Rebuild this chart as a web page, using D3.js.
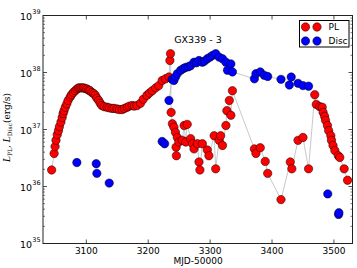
<!DOCTYPE html>
<html><head><meta charset="utf-8">
<script src="https://cdn.jsdelivr.net/npm/d3@7/dist/d3.min.js"></script>
<style>body{margin:0;background:#fff}svg{display:block}</style>
</head><body><svg id="c" width="357" height="268"></svg>
<script>
// MJD-50000 and log10(L) values
const plMJD = [3044,3048,3049.5,3051,3053,3055,3056.5,3059,3061,3062.5,3064,3066,3068.5,3070.5,3074,3076,3079,3082,3085,3087.5,3090,3093,3095.5,3098,3101,3104,3106,3109,3112,3114.5,3117,3120,3122.5,3125,3129,3133.5,3137,3141.5,3145,3149.5,3153.5,3158,3161.5,3166,3169.5,3174,3177.5,3182,3187.5,3192,3198,3202,3206.5,3212,3217,3222.5,3228,3233.5,3235,3236,
3237,3239,3241.5,3244,3245,3245.5,3247,3249.5,3255,3258,3260.5,3263,3268.5,3271.5,3274,3279.5,3282,3283.5,3287.5,3295.5,3298,3306.5,3309,3314.5,3317,3320,3325.5,3327,3331,3333.5,3336,
3371.5,3374,3381,3389,3393,3414.5,3429.5,3432,3442,3450,3459,3469,3471.5,3477,3481,3482.5,3485,3486.5,3489.5,3491.5,3495,3496,3498.5,3501.5,3507,3509.5,3516.5,3522];
const plLog = [36.29,36.58,36.70,36.81,36.91,36.98,37.05,37.13,37.21,37.28,37.33,37.39,37.45,37.51,37.57,37.61,37.65,37.68,37.71,37.73,37.73,37.73,37.73,37.72,37.71,37.69,37.68,37.65,37.63,37.60,37.55,37.51,37.46,37.42,37.40,37.39,37.38,37.37,37.37,37.36,37.35,37.35,37.37,37.39,37.41,37.42,37.41,37.42,37.46,37.53,37.60,37.64,37.68,37.73,37.77,37.86,37.89,37.92,38.21,38.33,
37.30,37.10,37.04,36.95,36.69,36.54,36.86,36.78,36.81,37.07,36.78,37.09,36.84,36.75,36.66,36.75,36.43,36.29,36.75,36.64,36.54,36.89,36.31,36.81,36.89,36.72,37.07,37.33,37.51,37.25,37.68,
36.66,36.58,36.68,36.44,36.23,35.77,36.43,36.31,36.81,36.86,36.31,37.61,37.44,37.40,37.39,37.30,37.23,37.16,37.07,36.98,36.89,36.81,36.72,36.63,36.54,36.51,36.31,36.11];

const discMJD = [3084.7,3116,3117,3137,3222.5,3226.5,
3233.5,3238.5,3241.5,3244,3247,3252.5,3257,3260.5,3265,3268.5,3274,3278,3282,3287.5,3291,3295.5,3300,3304,3309,3314.5,3320,3325.5,3328,3333.5,3336,
3371.5,3374,3381,3387.5,3393,3414.5,3428,3431,3442,3450,3459,
3490,3507.5,3508];
const discLog = [36.42,36.40,36.23,36.06,36.79,36.75,
37.51,37.88,37.86,37.92,37.98,38.04,38.07,38.09,38.10,38.12,38.18,38.17,38.21,38.18,38.20,38.24,38.27,38.30,38.33,38.27,38.24,38.18,38.04,38.15,38.01,
37.89,37.98,38.01,37.95,37.93,37.88,37.78,37.92,37.81,37.77,37.76,
35.87,35.51,35.54];
// indices of the disc points joined by the connecting line
const discLineStart = 6, discLineEnd = 41;

const xTicks = [3100,3200,3300,3400,3500];
const yExps = [35,36,37,38,39];
const title = "GX339 - 3";
const xLabel = "MJD-50000";
const legendNames = ["PL","Disc"];
const colors = ["#ff0000","#0000ff"];

const W=357,H=268, L=43, R=352.5, T=15.5, B=243.5;
const svg = d3.select("#c");
const x = d3.scaleLinear().domain([3030,3530]).range([L,R]);
const y = d3.scaleLog().domain([1e35,1e39]).range([B,T]);

const pl = plMJD.map((m,i)=>({m, v:Math.pow(10,plLog[i])}));
const disc = discMJD.map((m,i)=>({m, v:Math.pow(10,discLog[i])}));

const line = d3.line().x(d=>x(d.m)).y(d=>y(d.v));
svg.append("path").attr("d",line(pl)).attr("fill","none").attr("stroke","#b0b0b0").attr("stroke-width",0.7);
svg.append("path").attr("d",line(disc.slice(discLineStart,discLineEnd+1))).attr("fill","none").attr("stroke","#b0b0b0").attr("stroke-width",0.7);

const r=4.2;
svg.append("g").selectAll("circle").data(pl).join("circle")
  .attr("cx",d=>x(d.m)).attr("cy",d=>y(d.v)).attr("r",r)
  .attr("fill",colors[0]).attr("stroke","#000").attr("stroke-width",0.5);
svg.append("g").selectAll("circle").data(disc).join("circle")
  .attr("cx",d=>x(d.m)).attr("cy",d=>y(d.v)).attr("r",r)
  .attr("fill",colors[1]).attr("stroke","#000").attr("stroke-width",0.5);

// frame
const axCol="#222";
svg.append("rect").attr("x",L).attr("y",T).attr("width",R-L).attr("height",B-T)
  .attr("fill","none").attr("stroke",axCol).attr("stroke-width",1);

// x ticks (inward, bottom and top)
const gx = svg.append("g");
xTicks.forEach(t=>{
  const px=x(t);
  gx.append("line").attr("x1",px).attr("x2",px).attr("y1",B).attr("y2",B-4).attr("stroke",axCol).attr("stroke-width",0.8);
  gx.append("line").attr("x1",px).attr("x2",px).attr("y1",T).attr("y2",T+4).attr("stroke",axCol).attr("stroke-width",0.8);
  gx.append("text").attr("x",px).attr("y",254).attr("text-anchor","middle")
    .attr("font-family","DejaVu Sans").attr("font-size",9).attr("fill","#000").text(t);
});
svg.append("text").attr("x",198).attr("y",264).attr("text-anchor","middle")
  .attr("font-family","DejaVu Sans").attr("font-size",9).attr("fill","#000").text(xLabel);

// y ticks (log, inward, left and right)
const gy = svg.append("g");
yExps.forEach((e,k)=>{
  const py=y(Math.pow(10,e));
  gy.append("line").attr("x1",L).attr("x2",L+4).attr("y1",py).attr("y2",py).attr("stroke",axCol).attr("stroke-width",0.8);
  gy.append("line").attr("x1",R).attr("x2",R-4).attr("y1",py).attr("y2",py).attr("stroke",axCol).attr("stroke-width",0.8);
  const t = gy.append("text").attr("x",32).attr("y",py+4).attr("text-anchor","end")
    .attr("font-family","DejaVu Sans").attr("font-size",9.5).attr("fill","#000").text("10");
  gy.append("text").attr("x",32.3).attr("y",py-1.5).attr("text-anchor","start")
    .attr("font-family","DejaVu Sans").attr("font-size",6.5).attr("fill","#000").text(e);
  if(k<yExps.length-1){
    for(let m=2;m<=9;m++){
      const pm=y(m*Math.pow(10,e));
      gy.append("line").attr("x1",L).attr("x2",L+2).attr("y1",pm).attr("y2",pm).attr("stroke",axCol).attr("stroke-width",0.6);
      gy.append("line").attr("x1",R).attr("x2",R-2).attr("y1",pm).attr("y2",pm).attr("stroke",axCol).attr("stroke-width",0.6);
    }
  }
});

// y label
const yl = svg.append("text").attr("transform","translate(10,127.5) rotate(-90)")
  .attr("text-anchor","middle").attr("font-family","DejaVu Serif").attr("font-size",9).attr("fill","#000");
yl.append("tspan").attr("font-style","italic").text("L");
yl.append("tspan").attr("font-size",6).attr("dy",1.8).text("PL");
yl.append("tspan").attr("dy",-1.8).text(",  ");
yl.append("tspan").attr("font-style","italic").text("L");
yl.append("tspan").attr("font-size",6).attr("dy",1.8).text("Disc");
yl.append("tspan").attr("dy",-1.8).text("(erg/s)");

// title
svg.append("text").attr("x",198).attr("y",43).attr("text-anchor","middle")
  .attr("font-family","DejaVu Sans").attr("font-size",9.5).attr("fill","#000").text(title);

// legend
const lg = svg.append("g");
lg.append("rect").attr("x",299.5).attr("y",20.5).attr("width",49.5).attr("height",26.5)
  .attr("fill","#fff").attr("stroke","#000").attr("stroke-width",1);
legendNames.forEach((n,i)=>{
  const ly = 27 + i*14;
  [305.5,317].forEach(cx=>{
    lg.append("circle").attr("cx",cx).attr("cy",ly).attr("r",r).attr("fill",colors[i]).attr("stroke","#000").attr("stroke-width",0.5);
  });
  lg.append("text").attr("x",328.5).attr("y",ly+3.3).attr("font-family","DejaVu Sans").attr("font-size",9).attr("fill","#000").text(n);
});
</script></body></html>
